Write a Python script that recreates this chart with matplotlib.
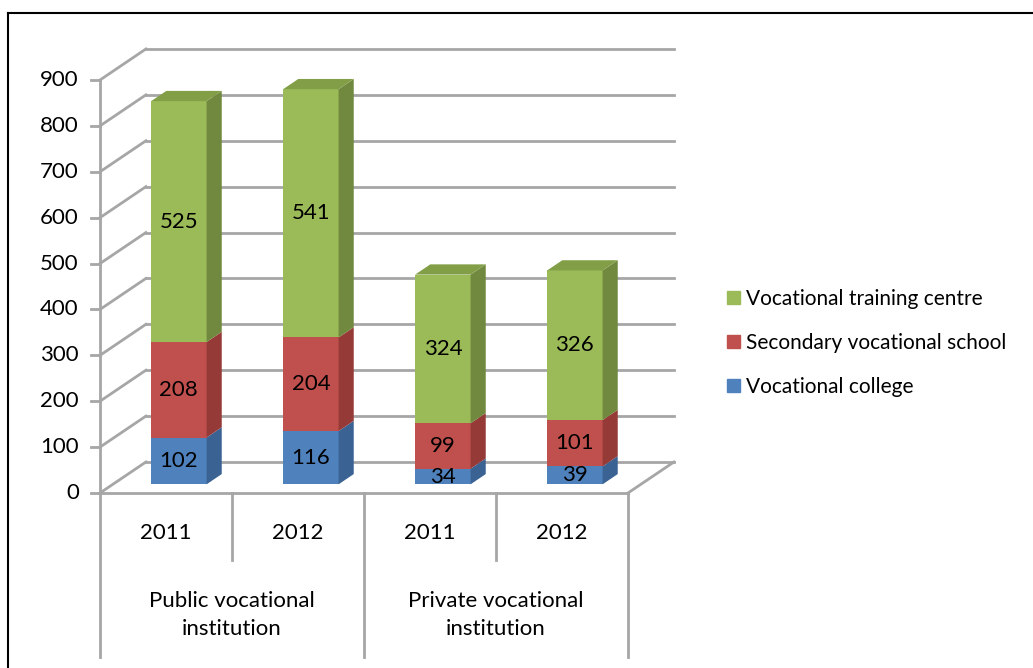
import numpy as np
import matplotlib.pyplot as plt
from matplotlib.patches import Polygon, Patch

# Data
groups = ["Public vocational\ninstitution", "Private vocational\ninstitution"]
years = ["2011", "2012", "2011", "2012"]
college = [102, 116, 34, 39]
secondary = [208, 204, 99, 101]
training = [525, 541, 324, 326]
series_names = ["Vocational college", "Secondary vocational school", "Vocational training centre"]
y_ticks = [0, 100, 200, 300, 400, 500, 600, 700, 800, 900]

# Colours (front, side, top) for each series
front_colors = ["#4F81BD", "#C0504D", "#9BBB59"]
side_colors = ["#3A6394", "#963A37", "#71893E"]
top_colors = ["#45719F", "#A9433F", "#829F48"]
grid_color = "#a6a6a6"

plt.rcParams['font.family'] = ['Lato', 'DejaVu Sans']
FS = 16

# oblique projection: depth 0 = front, 1 = back wall
DX = 0.348   # category units per full depth
DY = 67.6    # value units per full depth


def proj(x, v, d):
    return x + d * DX, v + d * DY


fig = plt.figure(figsize=(10.33, 6.68), dpi=100)
ax = fig.add_axes([0, 0, 1, 1])
ax.set_xlim(-100 / 132, 933 / 132)
ax.set_ylim(-175 / 0.4589, 493 / 0.4589)
ax.axis('off')

n = len(years)
ymax = y_ticks[-1]

# back wall and side wall grid
for v in y_ticks:
    x0, y0 = proj(0, v, 1)
    x1, y1 = proj(n, v, 1)
    ax.plot([x0, x1], [y0, y1], color=grid_color, lw=2, zorder=1)
    xa, ya = proj(0, v, 0)
    ax.plot([xa, x0], [ya, y0], color=grid_color, lw=2, zorder=1)
    ax.plot([-0.065, 0], [v, v], color=grid_color, lw=2, zorder=1)
    ax.text(-0.16, v, str(v), ha='right', va='center', fontsize=FS)

# front vertical axis
ax.plot([0, 0], [0, ymax], color=grid_color, lw=2, zorder=1)
# floor front and right edges
ax.plot([0, n], [0, 0], color=grid_color, lw=2, zorder=1)
xr, yr = proj(n, 0, 1)
ax.plot([n, xr], [0, yr], color=grid_color, lw=2, zorder=1)

# category axis separators
for i in range(n + 1):
    bottom = -357 if i % 2 == 0 else -146
    ax.plot([i, i], [0, bottom], color=grid_color, lw=2, zorder=1)
for i, yr_lab in enumerate(years):
    ax.text(i + 0.5, -87, yr_lab, ha='center', va='center', fontsize=FS)
for g, name in enumerate(groups):
    ax.text(2 * g + 1, -266, name, ha='center', va='center', fontsize=FS,
            linespacing=1.55)

# stacked 3D bars
width = 0.42
f0, f1 = 0.28, 0.61
stack = [college, secondary, training]
for i in range(n):
    xl = i + 0.5 - width / 2
    xr_ = i + 0.5 + width / 2
    base = 0
    for s, vals in enumerate(stack):
        v0, v1 = base, base + vals[i]
        front = [proj(xl, v0, f0), proj(xr_, v0, f0), proj(xr_, v1, f0), proj(xl, v1, f0)]
        side = [proj(xr_, v0, f0), proj(xr_, v0, f1), proj(xr_, v1, f1), proj(xr_, v1, f0)]
        ax.add_patch(Polygon(front, closed=True, fc=front_colors[s], ec='none', zorder=3))
        ax.add_patch(Polygon(side, closed=True, fc=side_colors[s], ec='none', zorder=3))
        if s == len(stack) - 1:
            top = [proj(xl, v1, f0), proj(xr_, v1, f0), proj(xr_, v1, f1), proj(xl, v1, f1)]
            ax.add_patch(Polygon(top, closed=True, fc=top_colors[s], ec='none', zorder=3))
        cx, cy = proj(i + 0.5, (v0 + v1) / 2, f0)
        ax.text(cx, cy, str(vals[i]), ha='center', va='center', fontsize=FS, zorder=5)
        base = v1

# legend
handles = [Patch(color=front_colors[s]) for s in [2, 1, 0]]
labels = [series_names[s] for s in [2, 1, 0]]
ax.legend(handles, labels, loc='center left', bbox_to_anchor=(719 / 1033, 1 - 343 / 668),
          frameon=False, fontsize=15, handlelength=0.6, handleheight=0.6,
          handletextpad=0.3, labelspacing=1.15, borderaxespad=0)

# chart border (top and left edges visible)
ax.plot([-92 / 132, 933 / 132], [480 / 0.4589, 480 / 0.4589], color='black', lw=1.5,
        clip_on=False, zorder=6)
ax.plot([-92 / 132, -92 / 132], [-175 / 0.4589, 480 / 0.4589], color='black', lw=1.5,
        clip_on=False, zorder=6)

fig.savefig("out.png", dpi=100)
